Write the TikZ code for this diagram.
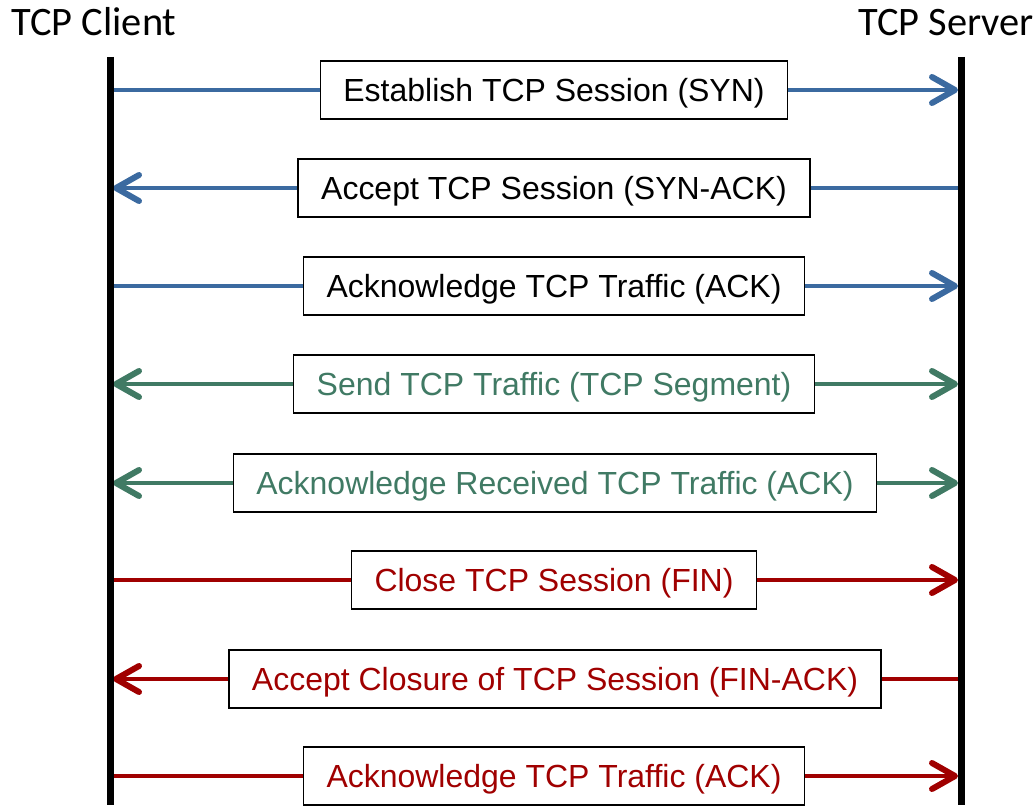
\documentclass[tikz,border=0pt]{standalone}
\usepackage{fontspec}
\setmainfont{Liberation Sans}
\newfontfamily\titlefont{Carlito}
\usetikzlibrary{arrows.meta}
\definecolor{tcpblue}{RGB}{59,106,160}
\definecolor{tcpgreen}{RGB}{64,122,100}
\definecolor{tcpred}{RGB}{160,0,0}
\begin{document}
\begin{tikzpicture}[x=0.1mm, y=-0.1mm, every node/.style={inner sep=0pt},
	msg/.style={draw=black, fill=white, line width=0.15mm, inner xsep=2.3mm, minimum height=5.8mm, text height=2.4mm, text depth=0.1mm, font=\fontsize{9.1}{11}\selectfont},
	title/.style={font=\titlefont\fontsize{11.5}{13}\selectfont, anchor=base},
	wire/.style={line width=0.48mm},
	arr/.style={wire, -{Straight Barb[length=2.3mm, width=2.6mm, line width=0.6mm, round]}},
	life/.style={line width=0.7mm}]
		\useasboundingbox (0,0) rectangle (1036,805);
		\node[title] (client) at (94,36) {TCP Client};
		\node[title] (server) at (946,36) {TCP Server};
		\coordinate (ctop) at (110,57);
		\coordinate (cbot) at (110,805);
		\coordinate (stop) at (961,57);
		\coordinate (sbot) at (961,805);
		% session setup
		\node[msg] (syn) at (554,90) {Establish TCP Session (SYN)};
		\coordinate (c1) at (110,90);
		\coordinate (s1) at (958,90);
		\draw[wire, tcpblue] (c1) -- (syn.west);
		\draw[arr, tcpblue] (syn.east) -- (s1);
		\node[msg] (synack) at (554,188) {Accept TCP Session (SYN-ACK)};
		\coordinate (c2) at (113,188);
		\coordinate (s2) at (961,188);
		\draw[arr, tcpblue] (synack.west) -- (c2);
		\draw[wire, tcpblue] (synack.east) -- (s2);
		\node[msg] (ack) at (554,286) {Acknowledge TCP Traffic (ACK)};
		\coordinate (c3) at (110,286);
		\coordinate (s3) at (958,286);
		\draw[wire, tcpblue] (c3) -- (ack.west);
		\draw[arr, tcpblue] (ack.east) -- (s3);
		% data transfer
		\node[msg, text=tcpgreen] (data) at (554,384) {Send TCP Traffic (TCP Segment)};
		\coordinate (c4) at (113,384);
		\coordinate (s4) at (958,384);
		\draw[arr, tcpgreen] (data.west) -- (c4);
		\draw[arr, tcpgreen] (data.east) -- (s4);
		\node[msg, text=tcpgreen] (dack) at (555,483) {Acknowledge Received TCP Traffic (ACK)};
		\coordinate (c5) at (113,483);
		\coordinate (s5) at (958,483);
		\draw[arr, tcpgreen] (dack.west) -- (c5);
		\draw[arr, tcpgreen] (dack.east) -- (s5);
		% session teardown
		\node[msg, text=tcpred] (fin) at (554,580) {Close TCP Session (FIN)};
		\coordinate (c6) at (110,580);
		\coordinate (s6) at (958,580);
		\draw[wire, tcpred] (c6) -- (fin.west);
		\draw[arr, tcpred] (fin.east) -- (s6);
		\node[msg, text=tcpred] (finack) at (555,679) {Accept Closure of TCP Session (FIN-ACK)};
		\coordinate (c7) at (113,679);
		\coordinate (s7) at (961,679);
		\draw[arr, tcpred] (finack.west) -- (c7);
		\draw[wire, tcpred] (finack.east) -- (s7);
		\node[msg, text=tcpred] (lastack) at (554,776) {Acknowledge TCP Traffic (ACK)};
		\coordinate (c8) at (110,776);
		\coordinate (s8) at (958,776);
		\draw[wire, tcpred] (c8) -- (lastack.west);
		\draw[arr, tcpred] (lastack.east) -- (s8);
		% lifelines
		\draw[life] (ctop) -- (cbot);
		\draw[life] (stop) -- (sbot);
	\end{tikzpicture}
\end{document}
